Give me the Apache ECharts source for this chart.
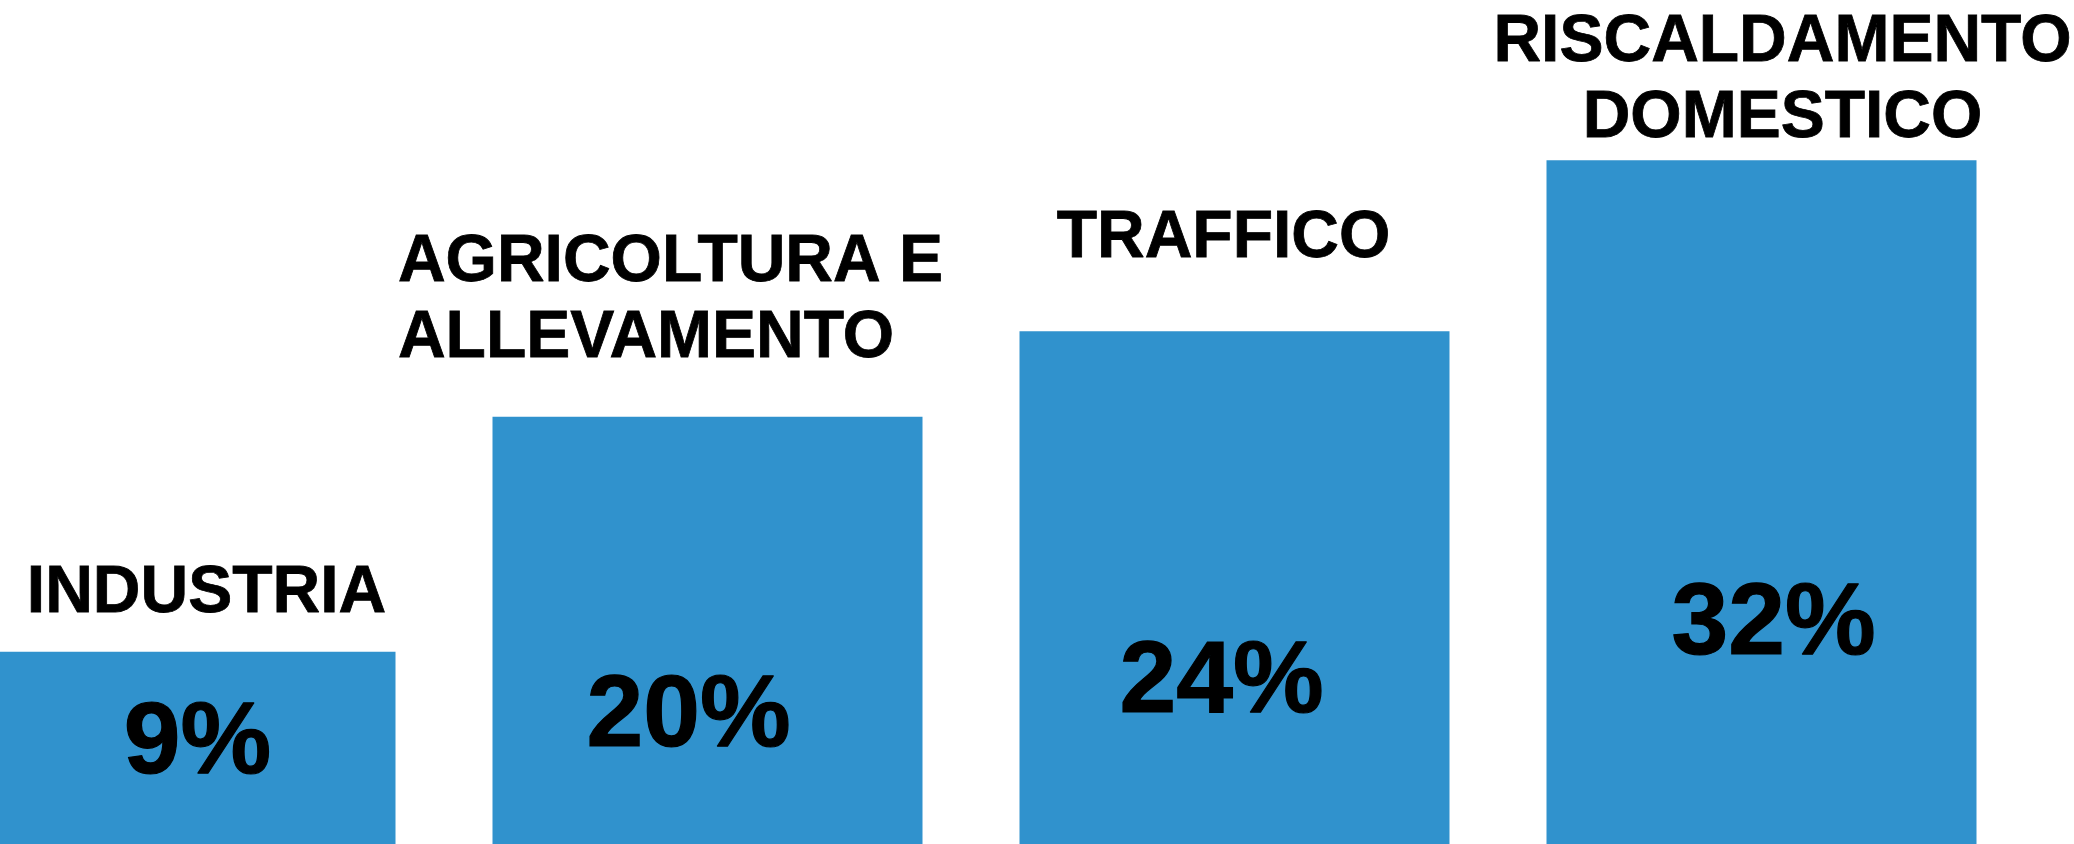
<!DOCTYPE html>
<html>
<head>
<meta charset="utf-8">
<title>Fonti di inquinamento</title>
<script src="https://cdn.jsdelivr.net/npm/echarts@6/dist/echarts.min.js"></script>
<style>
  html, body { margin: 0; padding: 0; background: #fff; }
  #chart { width: 2074px; height: 844px; }
</style>
</head>
<body>
<div id="chart"></div>
<script>
// dati
var categories = ['INDUSTRIA', 'AGRICOLTURA E\nALLEVAMENTO', 'TRAFFICO', 'RISCALDAMENTO\nDOMESTICO']
var values = [9, 20, 24, 32]

// layout delle etichette (non dati)
var nameAlign = ['center', 'left', 'center', 'center']
var nameOffset = [[26, -12], [-37, -32], [-11, -46], [21, 5]]
var pctLabelY = ['47%', '70.5%', '68.5%', '67.5%']
var pctOffset = [[17, 3], [-19, 0], [-13, 1], [12, 4]]

var barColor = '#3092cd'
var font = '"Liberation Sans", Arial, sans-serif'

var nameStyle = {
  fontFamily: font,
  fontWeight: 'bold',
  fontSize: 66,
  lineHeight: 76,
  color: '#000',
  textBorderColor: '#000',
  textBorderWidth: 0.8
}

var option = {
  animation: false,
  grid: { left: -83, right: 49, top: 0, bottom: 0, outerBoundsMode: 'none' },
  xAxis: {
    type: 'category',
    data: categories,
    show: false
  },
  yAxis: {
    type: 'value',
    min: 0,
    max: 39.5,
    show: false
  },
  series: [
    {
      type: 'bar',
      barWidth: 430,
      itemStyle: { color: barColor },
      silent: true,
      data: values.map(function (v, i) {
        return { value: v, label: { offset: nameOffset[i] } }
      }),
      label: {
        show: true,
        position: 'top',
        distance: 8,
        formatter: function (p) {
          return '{' + nameAlign[p.dataIndex] + '|' + categories[p.dataIndex] + '}'
        },
        rich: {
          center: Object.assign({ align: 'center' }, nameStyle),
          left: Object.assign({ align: 'left' }, nameStyle)
        }
      }
    },
    {
      type: 'bar',
      barWidth: 430,
      barGap: '-100%',
      silent: true,
      itemStyle: { color: 'rgba(0,0,0,0)' },
      data: values.map(function (v, i) {
        return { value: v, label: { position: ['50%', pctLabelY[i]], offset: pctOffset[i] } }
      }),
      label: {
        show: true,
        align: 'center',
        verticalAlign: 'middle',
        formatter: '{c}%',
        fontFamily: font,
        fontWeight: 'bold',
        fontSize: 102,
        color: '#000',
        textBorderColor: '#000',
        textBorderWidth: 1.2
      }
    }
  ]
}

var myChart = echarts.init(document.getElementById('chart'))
myChart.setOption(option)
</script>
</body>
</html>
